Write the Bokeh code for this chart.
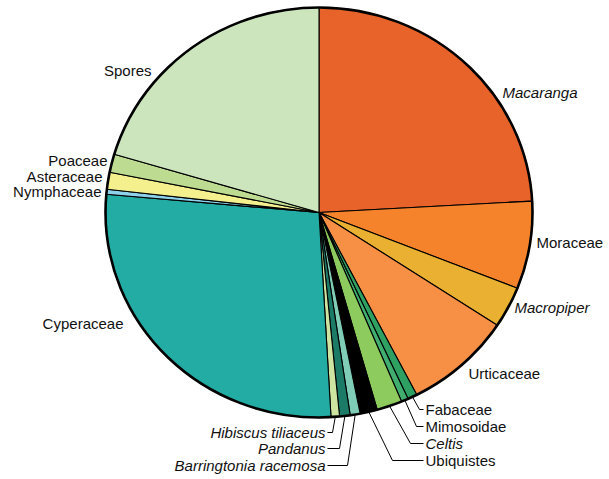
import numpy as np
from bokeh.plotting import figure
from bokeh.models import Range1d, ColumnDataSource
from bokeh.embed import file_html
from bokeh.resources import INLINE
from bokeh.core.properties import value

# ---- data (percent of pollen sum), clockwise from 12 o'clock ----
taxa = ["Macaranga", "Moraceae", "Macropiper", "Urticaceae", "Fabaceae",
        "Mimosoidae", "Celtis", "Ubiquistes", "Barringtonia racemosa",
        "Pandanus", "Hibiscus tiliaceus", "Cyperaceae", "Nymphaceae",
        "Asteraceae", "Poaceae", "Spores"]
shares = [24.1, 6.9, 3.25, 8.15, 0.72, 0.53, 1.92, 1.31, 0.75, 0.8, 0.64,
          27.3, 0.39, 1.33, 1.44, 20.4]
italic = [True, False, True, False, False, False, True, False, True, True,
          True, False, False, False, False, False]
colors = ["#e8632a", "#f5832b", "#e9b032", "#f78f45", "#2ea062", "#3fae6e",
          "#8dcb5e", "#000000", "#7fcdb6", "#1b7b66", "#cde5a0", "#22aca4",
          "#8dd2ea", "#f4f08e", "#bddc92", "#cce5bd"]

# ---- layout (pixel positions of labels, elbows of leader lines) ----
label_layout = {
    "Macaranga": (502, 92, "left", None),
    "Moraceae": (536, 242, "left", None),
    "Macropiper": (514, 307, "left", None),
    "Urticaceae": (468, 373, "left", None),
    "Fabaceae": (425, 409, "left", 419),
    "Mimosoidae": (425, 426, "left", 416),
    "Celtis": (425, 443, "left", 410),
    "Ubiquistes": (425, 460, "left", 392),
    "Barringtonia racemosa": (325, 465, "right", 347),
    "Pandanus": (325, 448, "right", 339),
    "Hibiscus tiliaceus": (325, 432, "right", 332),
    "Cyperaceae": (123, 323, "right", None),
    "Nymphaceae": (101, 191, "right", None),
    "Asteraceae": (102, 176, "right", None),
    "Poaceae": (107, 160, "right", None),
    "Spores": (151, 70, "right", None),
}

W, H = 607, 477
cx, cy, rx, ry = 318.5, 212.0, 213.5, 205.0

frac = np.array(shares) / np.sum(shares)
ends = 90.0 - 360.0 * np.cumsum(frac)
starts = ends + 360.0 * frac

xs, ys = [], []
for a0, a1 in zip(starts, ends):
    n = max(4, int(abs(a0 - a1) * 2) + 2)
    t = np.radians(np.linspace(a0, a1, n))
    xs.append([cx] + list(cx + rx * np.cos(t)))
    ys.append([cy] + list(cy - ry * np.sin(t)))

p = figure(width=W, height=H, output_backend="svg", toolbar_location=None,
           x_range=Range1d(0, W), y_range=Range1d(H, 0), min_border=0)
p.axis.visible = False
p.grid.visible = False
p.outline_line_color = None
p.background_fill_color = "white"

src = ColumnDataSource(dict(xs=xs, ys=ys, color=colors, taxon=taxa))
p.patches("xs", "ys", source=src, fill_color="color", line_color="black",
          line_width=1.1)
p.ellipse(x=[cx], y=[cy], width=[2 * rx], height=[2 * ry], fill_color=None,
          line_color="black", line_width=2.6)

# labels and leader lines
lx, ly, la, lt, lstyle = [], [], [], [], []
lead_x, lead_y = [], []
for name, a0, a1, it in zip(taxa, starts, ends, italic):
    x, y, align, elbow = label_layout[name]
    lx.append(x); ly.append(y); la.append(align); lt.append(name)
    lstyle.append("italic" if it else "normal")
    if elbow is not None:
        m = np.radians((a0 + a1) / 2)
        sx, sy = cx + rx * np.cos(m), cy - ry * np.sin(m)
        endx = x - 2 if align == "left" else x + 2
        lead_x.append([sx, elbow, endx])
        lead_y.append([sy, y, y])

p.multi_line(lead_x, lead_y, line_color="black", line_width=1)

for al in ("left", "right"):
    idx = [i for i in range(len(lt)) if la[i] == al]
    s = ColumnDataSource(dict(x=[lx[i] for i in idx], y=[ly[i] for i in idx],
                              text=[lt[i] for i in idx],
                              style=[lstyle[i] for i in idx]))
    p.text("x", "y", text="text", source=s, text_align=al,
           text_baseline="middle", text_font=value("Liberation Sans"),
           text_font_size="15px", text_font_style="style", text_color="#111111")

open("out.html", "w").write(file_html(p, INLINE))
